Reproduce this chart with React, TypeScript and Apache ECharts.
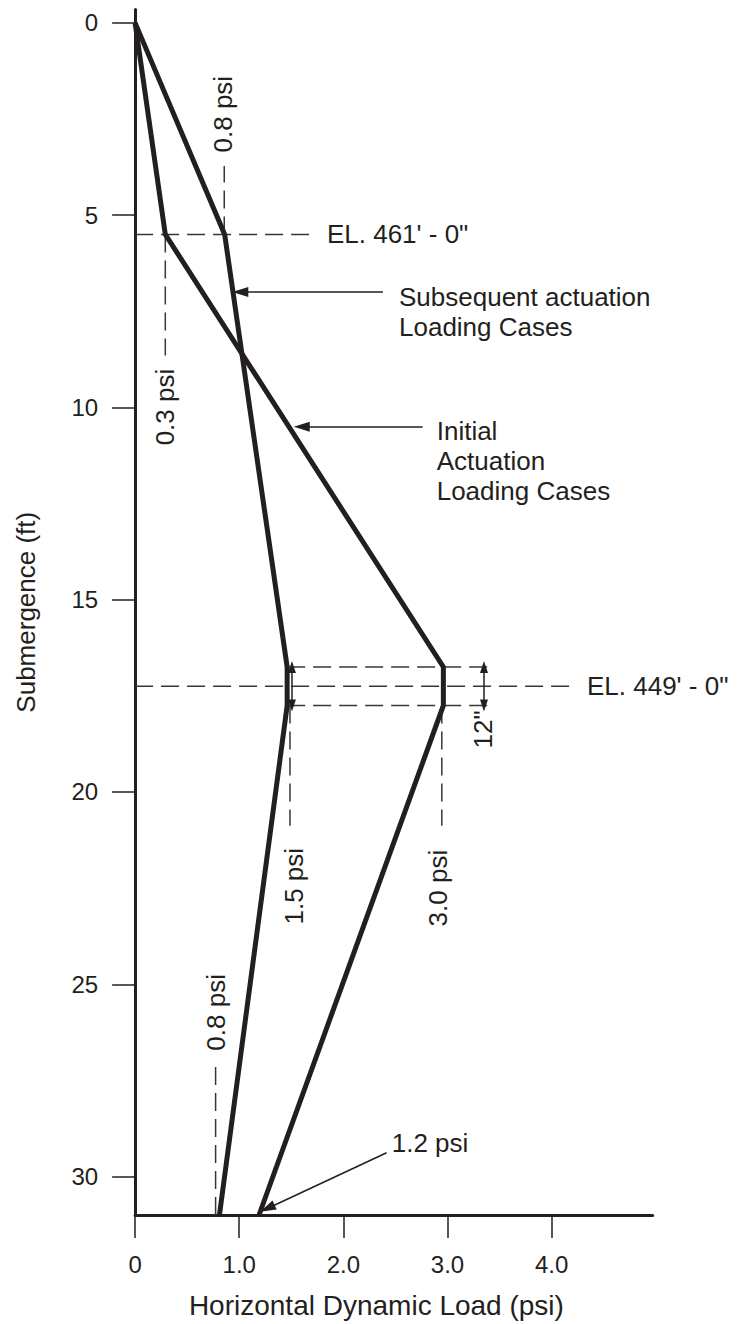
import React, { useEffect, useRef } from "react";
import * as echarts from "echarts";

// ---- data ----
const depthFt = [0, 5.5, 16.75, 17.75, 31];
const subsequentLoadPsi = [0, 0.86, 1.46, 1.46, 0.81];
const initialLoadPsi = [0, 0.29, 2.96, 2.96, 1.19];

const yTicks = [0, 5, 10, 15, 20, 25, 30];
const xTicks = [0, 1, 2, 3, 4];
const xTickLabels = ["0", "1.0", "2.0", "3.0", "4.0"];

// dashed guide lines, in data coordinates [psi, ft]
const dashGuides: [number, number][][] = [
  [[0, 5.5], [1.745, 5.5]],
  [[0.856, 5.5], [0.856, 3.72]],
  [[0.29, 5.5], [0.29, 8.65]],
  [[0, 17.25], [4.195, 17.25]],
  [[1.46, 16.75], [3.455, 16.75]],
  [[1.46, 17.75], [3.455, 17.75]],
  [[1.487, 17.75], [1.487, 20.88]],
  [[2.945, 17.75], [2.945, 20.88]],
  [[0.773, 31], [0.773, 26.97]],
];

// leader arrows: from -> to (arrow at "to"), double = arrow both ends
const arrows: { from: [number, number]; to: [number, number]; double?: boolean }[] = [
  { from: [2.38, 7.0], to: [1.01, 7.0] },
  { from: [2.761, 10.5], to: [1.6, 10.5] },
  { from: [2.415, 29.38], to: [1.27, 30.83] },
  { from: [1.506, 16.75], to: [1.506, 17.75], double: true },
  { from: [3.35, 16.75], to: [3.35, 17.75], double: true },
];

const notes: { text: string; at: [number, number]; rotate?: boolean }[] = [
  { text: "0.8 psi", at: [0.844, 2.374], rotate: true },
  { text: "EL. 461' - 0\"", at: [1.842, 5.5] },
  { text: "Subsequent actuation\nLoading Cases", at: [2.534, 7.51] },
  { text: "0.3 psi", at: [0.287, 9.99], rotate: true },
  { text: "Initial\nActuation\nLoading Cases", at: [2.896, 11.38] },
  { text: "EL. 449' - 0\"", at: [4.339, 17.25] },
  { text: "12\"", at: [3.345, 18.37], rotate: true },
  { text: "1.5 psi", at: [1.526, 22.45], rotate: true },
  { text: "3.0 psi", at: [2.91, 22.5], rotate: true },
  { text: "0.8 psi", at: [0.778, 25.73], rotate: true },
  { text: "1.2 psi", at: [2.464, 29.14] },
];

const INK = "#231f20";
const FONT = "'Liberation Sans', Arial, Helvetica, sans-serif";

export default function App() {
  const ref = useRef<HTMLDivElement>(null);
  useEffect(() => {
    if (!ref.current) return;
    const chart = echarts.init(ref.current, undefined, { renderer: "svg" });
    const lineSeries = (name: string, xs: number[]) => ({
      name,
      type: "line",
      data: xs.map((x, i) => [x, depthFt[i]]),
      symbol: "none",
      clip: false,
      z: 5,
      lineStyle: { color: INK, width: 5, cap: "butt", join: "miter" },
      silent: true,
    });
    const guideSeries = dashGuides.map((seg, i) => ({
      name: "guide" + i,
      type: "line",
      data: seg,
      symbol: "none",
      clip: false,
      silent: true,
      z: 3,
      lineStyle: { color: "#3a3637", width: 1.5, type: [18, 8] },
    }));
    const arrowSeries = {
      name: "arrows",
      type: "line",
      data: [],
      silent: true,
      markLine: {
        silent: true,
        animation: false,
        label: { show: false },
        lineStyle: { color: INK, width: 1.5, type: "solid" },
        symbolSize: [10, 16],
        data: arrows.map((a) => [
          { coord: a.from, symbol: a.double ? "triangle" : "none", symbolSize: a.double ? [8, 12] : [10, 16] },
          { coord: a.to, symbol: "triangle", symbolSize: a.double ? [8, 12] : [10, 16] },
        ]),
      },
    };
    chart.setOption({
      animation: false,
      textStyle: { fontFamily: FONT, color: INK },
      grid: { left: 135.1, right: 93.3, top: 9.44, bottom: 100, containLabel: false },
      xAxis: {
        type: "value",
        position: "bottom",
        min: 0,
        max: 4.97,
        name: "Horizontal Dynamic Load (psi)",
        nameLocation: "middle",
        nameGap: 76,
        nameTextStyle: { fontSize: 28, color: INK, fontFamily: FONT, padding: [0, 35, 0, 0] },
        axisLine: { show: true, onZero: false, lineStyle: { color: INK, width: 3 } },
        axisTick: { show: true, customValues: xTicks, length: 23, lineStyle: { color: INK, width: 1.5 } },
        axisLabel: {
          customValues: xTicks,
          fontSize: 24,
          color: INK,
          fontFamily: FONT,
          margin: 37,
          formatter: (v: number) => xTickLabels[xTicks.indexOf(v)] ?? "",
        },
        splitLine: { show: false },
      },
      yAxis: {
        type: "value",
        position: "left",
        inverse: true,
        min: -0.35,
        max: 31,
        name: "Submergence (ft)",
        nameLocation: "middle",
        nameGap: 96,
        nameTextStyle: { fontSize: 26, color: INK, fontFamily: FONT },
        axisLine: { show: true, onZero: false, lineStyle: { color: INK, width: 3 } },
        axisTick: { show: true, customValues: yTicks, length: 23, lineStyle: { color: INK, width: 1.5 } },
        axisLabel: { customValues: yTicks, fontSize: 24, color: INK, fontFamily: FONT, margin: 37 },
        splitLine: { show: false },
      },
      series: [
        lineSeries("Subsequent actuation Loading Cases", subsequentLoadPsi),
        lineSeries("Initial Actuation Loading Cases", initialLoadPsi),
        ...guideSeries,
        arrowSeries,
      ],
    });
    const graphic = notes.map((n) => {
      const p = chart.convertToPixel({ gridIndex: 0 }, n.at) as number[];
      return {
        type: "text",
        x: p[0],
        y: p[1],
        rotation: n.rotate ? Math.PI / 2 : 0,
        silent: true,
        z: 10,
        style: {
          text: n.text,
          fontSize: 26,
          fontFamily: FONT,
          fill: INK,
          lineHeight: 30,
          align: n.rotate ? "center" : "left",
          verticalAlign: "middle",
        },
      };
    });
    chart.setOption({ graphic });
    return () => chart.dispose();
  }, []);
  return (
    <div
      ref={ref}
      style={{ position: "absolute", left: 0, top: 0, width: 746, height: 1324, background: "#fff" }}
    />
  );
}
